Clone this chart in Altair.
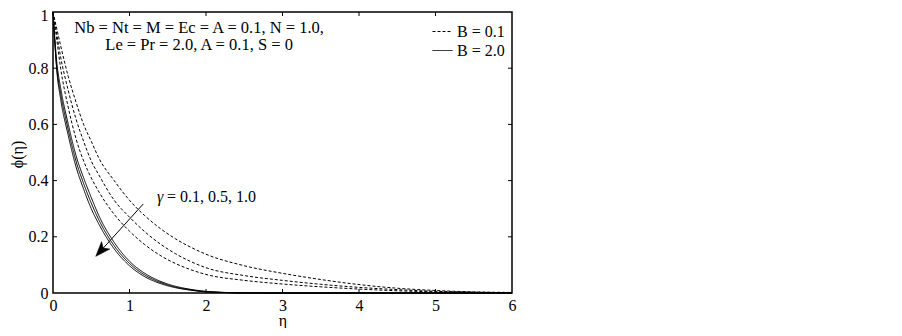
import altair as alt
import pandas as pd

# ---- data ----
eta = [0, 0.05, 0.1, 0.2, 0.3, 0.4, 0.5, 0.6, 0.8, 1.0, 1.2, 1.4, 1.6, 1.8, 2.0,
       2.5, 3.0, 3.5, 4.0, 4.5, 5.0, 5.5, 6.0]

# B = 0.1 (dashed)
phi_B01_g01 = [1.0, 0.94, 0.88, 0.77, 0.68, 0.60, 0.54, 0.48, 0.40, 0.33, 0.275, 0.23,
               0.193, 0.163, 0.138, 0.097, 0.070, 0.048, 0.030, 0.017, 0.009, 0.004, 0.002]
phi_B01_g05 = [1.0, 0.92, 0.84, 0.72, 0.62, 0.54, 0.47, 0.42, 0.33, 0.27, 0.218, 0.175,
               0.14, 0.112, 0.090, 0.062, 0.045, 0.031, 0.020, 0.012, 0.006, 0.003, 0.001]
phi_B01_g10 = [1.0, 0.90, 0.80, 0.66, 0.55, 0.47, 0.41, 0.36, 0.28, 0.22, 0.172, 0.134,
               0.105, 0.083, 0.066, 0.045, 0.032, 0.022, 0.014, 0.008, 0.004, 0.002, 0.001]

# B = 2.0 (solid)
phi_B20_g01 = [1.0, 0.82, 0.73, 0.60, 0.49, 0.41, 0.34, 0.275, 0.18, 0.113, 0.07, 0.042,
               0.024, 0.013, 0.006, 0.0005, 0, 0, 0, 0, 0, 0, 0]
phi_B20_g05 = [1.0, 0.80, 0.71, 0.58, 0.47, 0.39, 0.32, 0.26, 0.168, 0.105, 0.064, 0.038,
               0.021, 0.011, 0.005, 0.0004, 0, 0, 0, 0, 0, 0, 0]
phi_B20_g10 = [1.0, 0.79, 0.69, 0.56, 0.45, 0.37, 0.30, 0.245, 0.157, 0.097, 0.058, 0.034,
               0.019, 0.010, 0.004, 0.0003, 0, 0, 0, 0, 0, 0, 0]

legend_labels = ["B = 0.1", "B = 2.0"]
x_ticks = [0, 1, 2, 3, 4, 5, 6]
y_ticks = [0, 0.2, 0.4, 0.6, 0.8, 1.0]

param_lines = ["Nb = Nt = M = Ec = A = 0.1, N = 1.0,", "Le = Pr = 2.0, A = 0.1, S = 0"]
param_eta = [1.91, 1.91]
param_phi = [0.944, 0.883]

gamma_label = "= 0.1, 0.5, 1.0"
gamma_pos = (1.36, 0.342)
arrow_start = (1.18, 0.317)
arrow_head = (0.624, 0.150)

# ---- build table ----
curves = [
    ("B = 0.1", "0.1", phi_B01_g01), ("B = 0.1", "0.5", phi_B01_g05), ("B = 0.1", "1.0", phi_B01_g10),
    ("B = 2.0", "0.1", phi_B20_g01), ("B = 2.0", "0.5", phi_B20_g05), ("B = 2.0", "1.0", phi_B20_g10),
]
rows = []
for b, g, vals in curves:
    for e, v in zip(eta, vals):
        rows.append({"eta": e, "phi": v, "B": b, "curve": b + "_" + g})
df = pd.DataFrame(rows)

W, H = 459, 281
FONT = "Liberation Serif"
FS = 16
xs = alt.Scale(domain=[0, 6], nice=False, zero=False)
ys = alt.Scale(domain=[0, 1], nice=False, zero=False)

lines = alt.Chart(df).mark_line(color="black", strokeWidth=1, interpolate="monotone").encode(
    x=alt.X("eta:Q", scale=xs,
            axis=alt.Axis(values=x_ticks, format="d", title="η", labelPadding=4,
                          labelFlush=False, titleY=32, titleBaseline="alphabetic")),
    y=alt.Y("phi:Q", scale=ys,
            axis=alt.Axis(values=y_ticks, format="~g", title="ϕ(η)", labelPadding=5,
                          labelFlush=False,
                          labelOffset={"condition": {"test": "datum.value == 1", "value": 3},
                                       "value": 0},
                          titleX=-28, titleY=142)),
    strokeDash=alt.StrokeDash(
        "B:N",
        scale=alt.Scale(domain=legend_labels, range=[[3, 2], [1, 0]]),
        legend=alt.Legend(title=None, orient="none", legendX=379, legendY=9,
                          symbolType="stroke", symbolSize=400, symbolStrokeColor="black",
                          symbolStrokeWidth=1, labelFont=FONT, labelFontSize=FS,
                          labelColor="black", labelOffset=4, rowPadding=-6, padding=0),
    ),
    detail="curve:N",
)

# inward ticks on all four sides
xt = pd.DataFrame({"eta": x_ticks[1:-1]})
yt = pd.DataFrame({"phi": y_ticks[1:-1]})
tick_b = alt.Chart(xt).mark_rule(color="black", strokeWidth=1).encode(
    x=alt.X("eta:Q", scale=xs), y=alt.value(H), y2=alt.value(H - 4))
tick_t = alt.Chart(xt).mark_rule(color="black", strokeWidth=1).encode(
    x=alt.X("eta:Q", scale=xs), y=alt.value(0), y2=alt.value(4))
tick_l = alt.Chart(yt).mark_rule(color="black", strokeWidth=1).encode(
    y=alt.Y("phi:Q", scale=ys), x=alt.value(0), x2=alt.value(4))
tick_r = alt.Chart(yt).mark_rule(color="black", strokeWidth=1).encode(
    y=alt.Y("phi:Q", scale=ys), x=alt.value(W), x2=alt.value(W - 4))

params = pd.DataFrame({"eta": param_eta, "phi": param_phi, "text": param_lines})
param_text = alt.Chart(params).mark_text(font=FONT, fontSize=16.5, color="black",
                                         align="center", baseline="middle").encode(
    x=alt.X("eta:Q", scale=xs), y=alt.Y("phi:Q", scale=ys), text="text:N")

gdf = pd.DataFrame({"eta": [gamma_pos[0]], "phi": [gamma_pos[1]],
                    "g": ["γ"], "t": [gamma_label]})
g_sym = alt.Chart(gdf).mark_text(font=FONT, fontSize=FS, fontStyle="italic", color="black",
                                 align="left", baseline="middle").encode(
    x=alt.X("eta:Q", scale=xs), y=alt.Y("phi:Q", scale=ys), text="g:N")
g_txt = alt.Chart(gdf).mark_text(font=FONT, fontSize=FS, color="black",
                                 align="left", baseline="middle", dx=10).encode(
    x=alt.X("eta:Q", scale=xs), y=alt.Y("phi:Q", scale=ys), text="t:N")

adf = pd.DataFrame({"x1": [arrow_start[0]], "y1": [arrow_start[1]],
                    "x2": [arrow_head[0]], "y2": [arrow_head[1]]})
arrow_line = alt.Chart(adf).mark_rule(color="black", strokeWidth=1).encode(
    x=alt.X("x1:Q", scale=xs), y=alt.Y("y1:Q", scale=ys), x2="x2:Q", y2="y2:Q")
arrow_tip = alt.Chart(adf).mark_point(
    shape="M0,-1 L0.75,1 L0,0.5 L-0.75,1 Z", size=220, angle=222,
    filled=True, fill="black", stroke="black", strokeWidth=0.5, opacity=1).encode(
    x=alt.X("x2:Q", scale=xs), y=alt.Y("y2:Q", scale=ys))

chart = alt.layer(lines, tick_b, tick_t, tick_l, tick_r, param_text, g_sym, g_txt,
                  arrow_line, arrow_tip).properties(
    width=W, height=H,
    autosize=alt.AutoSizeParams(type="none"),
    padding={"left": 45, "top": 4, "right": 10, "bottom": 35},
).configure_view(stroke="black", strokeWidth=1.5).configure_axis(
    labelFont=FONT, labelFontSize=FS, labelColor="black",
    titleFont=FONT, titleFontSize=FS, titleFontWeight="normal", titleColor="black",
    domain=False, ticks=False, grid=False,
)

chart.save("out.html", embed_options={"renderer": "svg", "actions": False})
